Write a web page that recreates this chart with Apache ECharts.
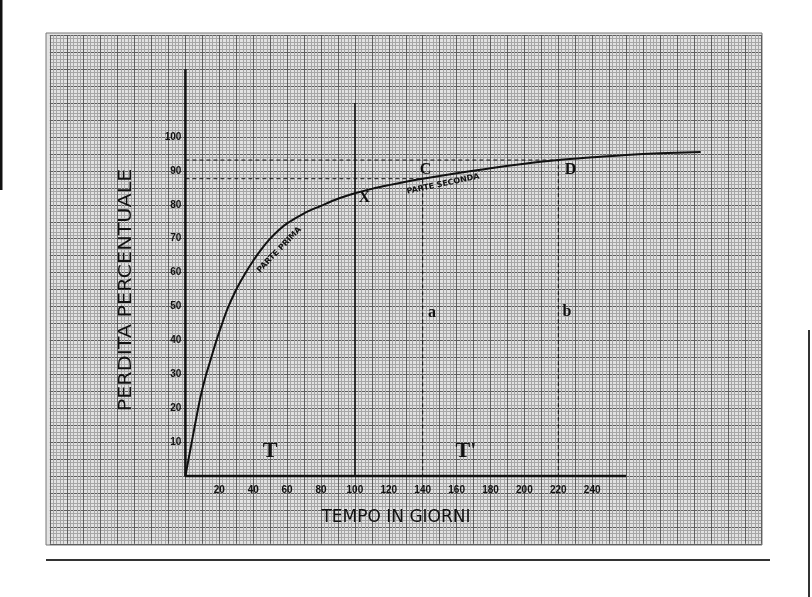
<!DOCTYPE html>
<html>
<head>
<meta charset="utf-8">
<script src="https://cdn.jsdelivr.net/npm/echarts@6/dist/echarts.min.js"></script>
<style>
html,body{margin:0;padding:0;background:#fff;}
#c{width:812px;height:597px;}
</style>
</head>
<body>
<div id="c"></div>
<script>
// ---- data ----
const curveDays = [0, 3, 6, 9, 12, 15, 18, 21, 25, 30, 35, 40, 45, 50, 55, 60, 70, 80, 90, 100, 110, 120, 130, 140, 160, 180, 200, 220, 240, 260, 280, 304];
const curveLoss = [0, 8, 16, 23.5, 29.5, 34.5, 39.5, 44, 49.5, 55, 59.5, 63.5, 67, 70, 72.5, 74.5, 77.5, 79.7, 81.8, 83.4, 84.7, 85.8, 86.8, 87.7, 89.3, 90.8, 92.1, 93.2, 94.0, 94.7, 95.2, 95.6];
const xTickLabels = [20, 40, 60, 80, 100, 120, 140, 160, 180, 200, 220, 240];
const yTickLabels = [10, 20, 30, 40, 50, 60, 70, 80, 90, 100];
const xAxisEnd = 260;      // days, end of drawn time axis
const yAxisEnd = 120;      // %, end of drawn loss axis
const pointX = [100, 110]; // day of X, top of its vertical line
const pointC = [140, 87.7];
const pointD = [220, 93.2];
const annoText = ['C', 'D', 'X', 'a', 'b', 'T', "T'", 'PARTE PRIMA', 'PARTE SECONDA'];
const annoDay  = [141.6, 227.2, 105.5, 145.5, 225.1, 49.9, 165.5, 55.4, 152];
const annoLoss = [90.3, 90.3, 81.9, 48.1, 48.4, 7.4, 7.4, 66.7, 86.1];

// ---- layout ----
const pxPerDay = 1.695, pxPerPct = 3.39, originX = 185.4, originY = 476;
const xMin = -80, xMax = 340, yMin = -20, yMax = 130;
const gridLeft = originX + xMin * pxPerDay;
const gridTop = originY - yMax * pxPerPct;
const gridW = (xMax - xMin) * pxPerDay;
const gridH = (yMax - yMin) * pxPerPct;

const ink = '#111';
const serif = {fontFamily: 'Liberation Serif', fontWeight: 'bold'};
const annoStyles = [
  Object.assign({fontSize: 16}, serif),
  Object.assign({fontSize: 16}, serif),
  Object.assign({fontSize: 16}, serif),
  Object.assign({fontSize: 16}, serif),
  Object.assign({fontSize: 16}, serif),
  Object.assign({fontSize: 22}, serif),
  Object.assign({fontSize: 22}, serif),
  {fontFamily: 'DejaVu Sans', fontWeight: 'bold', fontSize: 8, rotate: 46},
  {fontFamily: 'DejaVu Sans', fontWeight: 'bold', fontSize: 8, rotate: 12}
];

const chart = echarts.init(document.getElementById('c'), null, {renderer: 'canvas'});
const zip = (a, b) => a.map((v, i) => [v, b[i]]);

const option = {
  backgroundColor: '#ffffff',
  animation: false,
  graphic: [
    {type: 'rect', z: -10, shape: {x: 46, y: 33, width: 716, height: 512}, style: {fill: '#e2e2e2', stroke: '#777', lineWidth: 1}},
    {type: 'rect', z: 10, shape: {x: 0, y: 0, width: 2.5, height: 190}, style: {fill: '#111'}},
    {type: 'rect', z: 10, shape: {x: 46, y: 559, width: 724, height: 2}, style: {fill: '#333'}},
    {type: 'rect', z: 10, shape: {x: 808, y: 330, width: 2, height: 267}, style: {fill: '#333'}},
    {type: 'text', z: 20, x: 396, y: 518, style: {text: 'TEMPO IN GIORNI', fill: ink, font: '17px "DejaVu Sans"', align: 'center', verticalAlign: 'middle'}},
    {type: 'text', z: 20, x: 127, y: 290, rotation: Math.PI / 2, scaleX: 1.22, style: {text: 'PERDITA PERCENTUALE', fill: ink, font: '17px "DejaVu Sans"', align: 'center', verticalAlign: 'middle'}}
  ],
  grid: {left: gridLeft, top: gridTop, width: gridW, height: gridH, containLabel: false},
  xAxis: {
    type: 'value', min: xMin, max: xMax, interval: 10, position: 'bottom',
    offset: yMin * pxPerPct,
    axisLine: {show: false},
    axisTick: {show: false},
    minorTick: {show: false, splitNumber: 5},
    splitLine: {show: true, lineStyle: {color: '#5e5e5e', width: 1}},
    minorSplitLine: {show: true, lineStyle: {color: '#a6a6a6', width: 1}},
    axisLabel: {
      margin: 9, color: ink, fontFamily: 'Liberation Sans', fontWeight: 'bold', fontSize: 10,
      hideOverlap: false, showMinLabel: true, showMaxLabel: true,
      formatter: v => xTickLabels.includes(v) ? String(v) : ''
    }
  },
  yAxis: {
    type: 'value', min: yMin, max: yMax, interval: 5, position: 'left',
    offset: xMin * pxPerDay,
    axisLine: {show: false},
    axisTick: {show: false},
    minorTick: {show: false, splitNumber: 5},
    splitLine: {show: true, lineStyle: {color: '#5e5e5e', width: 1}},
    minorSplitLine: {show: true, lineStyle: {color: '#a6a6a6', width: 1}},
    axisLabel: {
      margin: 4, color: ink, fontFamily: 'Liberation Sans', fontWeight: 'bold', fontSize: 10,
      padding: [0, 0, 6, 0], hideOverlap: false,
      formatter: v => yTickLabels.includes(v) ? String(v) : ''
    }
  },
  series: [
    {type: 'line', data: zip(curveDays, curveLoss), smooth: 0.35, showSymbol: false, lineStyle: {color: ink, width: 2}, z: 5},
    {type: 'line', data: [[0, yAxisEnd], [0, 0], [xAxisEnd, 0]], showSymbol: false, lineStyle: {color: ink, width: 2.5}, z: 4},
    {type: 'line', data: [[pointX[0], 0], [pointX[0], pointX[1]]], showSymbol: false, lineStyle: {color: ink, width: 1.5}, z: 4},
    {type: 'line', data: [[0, pointC[1]], [pointC[0], pointC[1]], [pointC[0], 0]], showSymbol: false, lineStyle: {color: ink, width: 1, type: [4, 3]}, z: 4},
    {type: 'line', data: [[0, pointD[1]], [pointD[0], pointD[1]], [pointD[0], 0]], showSymbol: false, lineStyle: {color: ink, width: 1, type: [4, 3]}, z: 4},
    {
      type: 'scatter', symbolSize: 0, z: 6,
      itemStyle: {opacity: 1, color: ink},
      data: annoText.map((t, i) => ({
        value: [annoDay[i], annoLoss[i]],
        label: Object.assign({show: true, position: 'inside', formatter: t, color: ink, opacity: 1,
          textBorderWidth: 0, textShadowBlur: 0, align: 'center', verticalAlign: 'middle'}, annoStyles[i])
      }))
    }
  ]
};
chart.setOption(option);
</script>
</body>
</html>
